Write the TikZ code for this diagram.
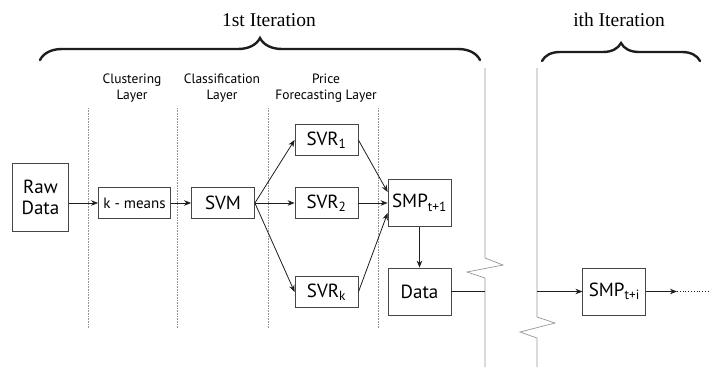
\documentclass[tikz,border=0pt]{standalone}
\usepackage{fontspec}
\setmainfont{PT Sans}
\newfontfamily\titlefont{Liberation Serif}
\usepackage{tikz}
\usetikzlibrary{arrows.meta, positioning, calc, decorations.pathreplacing}
\definecolor{mydark}{RGB}{30,30,30}
\definecolor{mygray}{RGB}{150,150,150}
\definecolor{boxgray}{RGB}{70,70,70}
\tikzset{
  block/.style={rectangle, draw=boxgray, fill=white, line width=0.8pt,
    align=center, inner sep=0pt, font=\fontsize{19}{21}\selectfont},
  smallblock/.style={block, font=\fontsize{15}{17}\selectfont},
  layertext/.style={align=center, font=\fontsize{13.5}{16}\selectfont},
  itertext/.style={font=\titlefont\fontsize{19.5}{22}\selectfont},
  layerline/.style={mygray, line width=0.6pt, densely dotted},
  cutline/.style={mygray, line width=0.7pt},
  bigbrace/.style={line width=2.4pt, line cap=round, color=mydark,
    decorate, decoration={brace, amplitude=#1}},
  arrow/.style={-{Stealth[length=7pt, width=5.5pt]}, line width=0.8pt, color=mydark},
  line/.style={line width=0.8pt, color=mydark}
}

\begin{document}
\begin{tikzpicture}[x=1pt, y=-1pt]
  \useasboundingbox (0,0) rectangle (719,367);

  % Iteration titles and braces
  \node[itertext] (iter1) at (269,20) {1st Iteration};
  \node[itertext] (iteri) at (619,20) {ith Iteration};
  \draw[bigbrace=22pt] (40,60) -- (480,60);
  \draw[bigbrace=18pt] (542,61) -- (700,61);

  % Layer names
  \node[layertext] (clus) at (132,88) {Clustering\\Layer};
  \node[layertext] (clas) at (222,88) {Classification\\Layer};
  \node[layertext] (fore) at (326,88) {Price\\Forecasting Layer};

  % Dotted layer separators
  \foreach \x in {88,177,268,378}
    \draw[layerline] (\x,108) -- (\x,328);

  % Iteration cut lines with break marks
  \draw[cutline] (485,68) -- (485,258) -- (503,265) -- (467,272) -- (485,278) -- (485,367);
  \draw[cutline] (537,68) -- (537,317) -- (555,323) -- (520,332) -- (537,338) -- (537,367);
  \coordinate (cut1) at (485,0);
  \coordinate (cut2) at (537,0);
  \coordinate (more) at (677,0);
  \coordinate (moreend) at (708,0);

  % Blocks
  \node[block, minimum width=56pt, minimum height=68pt] (raw) at (40.5,197) {Raw\\Data};
  \node[smallblock, minimum width=72pt, minimum height=31pt] (kmeans) at (134.5,203) {k - means};
  \node[block, minimum width=63pt, minimum height=31pt] (svm) at (223,203) {SVM};
  \node[block, minimum width=63pt, minimum height=31pt] (svr1) at (326.5,140) {SVR\textsubscript{1}};
  \node[block, minimum width=63pt, minimum height=31pt] (svr2) at (326.5,203) {SVR\textsubscript{2}};
  \node[block, minimum width=63pt, minimum height=31pt] (svrk) at (326.5,292) {SVR\textsubscript{k}};
  \node[block, minimum width=63pt, minimum height=47pt] (smp1) at (419.5,203) {SMP\textsubscript{t+1}};
  \node[block, minimum width=63pt, minimum height=47pt] (data) at (419.5,291.5) {Data};
  \node[block, minimum width=63pt, minimum height=47pt] (smpi) at (614.3,291.5) {SMP\textsubscript{t+i}};

  % Connectors
  \draw[arrow] (raw.east |- kmeans.west) -- (kmeans.west);
  \draw[arrow] (kmeans) -- (svm);
  \draw[arrow] (svm.east) -- (svr1.west);
  \draw[arrow] (svm.east) -- (svr2.west);
  \draw[arrow] (svm.east) -- (svrk.west);
  \draw[arrow] (svr1.east) -- ([yshift=11pt]smp1.west);
  \draw[arrow] (svr2.east) -- (smp1.west);
  \draw[arrow] (svrk.east) -- ([yshift=-10pt]smp1.west);
  \draw[arrow] (smp1) -- (data);
  \draw[line] (data.east) -- (data.east -| cut1);
  \draw[arrow] (smpi.west -| cut2) -- (smpi.west);
  \draw[arrow] (smpi.east) -- (smpi.east -| more);
  \draw[line, dotted] (smpi.east -| more) -- (smpi.east -| moreend);
\end{tikzpicture}
\end{document}
